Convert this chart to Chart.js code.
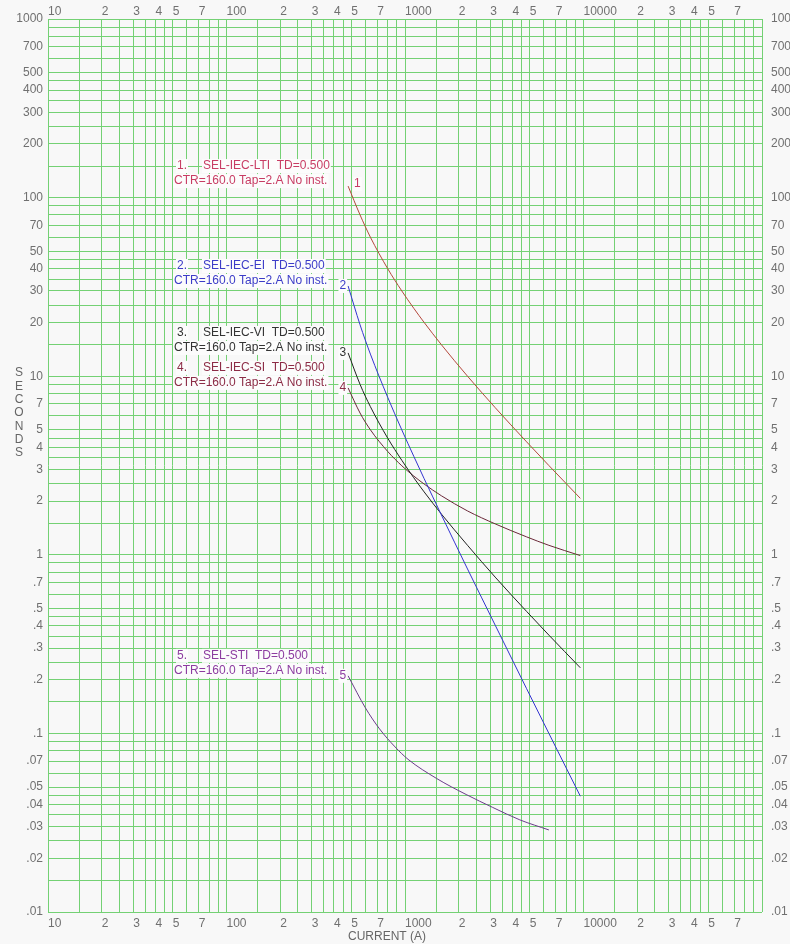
<!DOCTYPE html>
<html>
<head>
<meta charset="utf-8">
<title>Time-current curves</title>
<script src="https://cdn.jsdelivr.net/npm/chart.js@4.4.1/dist/chart.umd.min.js"></script>
<style>
  html, body { margin: 0; padding: 0; background: #f8f8f8; }
  canvas { display: block; }
</style>
</head>
<body>
<canvas id="tccChart" width="790" height="944"></canvas>
<script>
// Relay curves, primary amps vs. trip time in seconds
const currentAmps = [480, 560, 640, 800, 960, 1120, 1280, 1600, 2240, 3200, 4800, 6400, 9600];
const ltiSeconds = [116, 80, 60, 40, 30, 24, 20, 15, 10, 6.67, 4.29, 3.16, 2.07];
const eiSeconds = [32, 19.4, 13.3, 7.62, 5.0, 3.56, 2.67, 1.67, 0.833, 0.404, 0.178, 0.1, 0.0445];
const viSeconds = [13.5, 9.0, 6.75, 4.5, 3.38, 2.7, 2.25, 1.69, 1.13, 0.75, 0.482, 0.355, 0.233];
const siSeconds = [8.6, 6.22, 5.01, 3.79, 3.15, 2.76, 2.49, 2.14, 1.76, 1.49, 1.26, 1.13, 0.99];
const stiAmps = [480, 600, 720, 880, 1040, 1500, 2200, 3100, 4400, 6400];
const stiSeconds = [0.21, 0.139, 0.106, 0.084, 0.0716, 0.056, 0.0455, 0.0385, 0.0328, 0.0288];

const curveNames = ['SEL-IEC-LTI', 'SEL-IEC-EI', 'SEL-IEC-VI', 'SEL-IEC-SI', 'SEL-STI'];
const timeDial = 'TD=0.500';
const settingText = 'CTR=160.0 Tap=2.A No inst.';

// grid lines per decade and which of them get a label
const decadeSteps = [1, 1.5, 2, 2.5, 3, 3.5, 4, 4.5, 5, 6, 7, 8, 9];
const xLabelSteps = [2, 3, 4, 5, 7];
const yLabelSteps = [2, 3, 4, 5, 7];

const textColors = ['#c83c64', '#3c3cc8', '#333333', '#8c2c46', '#8c3ca0'];
const lineColors = ['#b4483c', '#3434d0', '#222222', '#6a2838', '#6c3c8c'];
const font = 'Liberation Sans, Arial, sans-serif';

function gridValues(min, max) {
    const vals = [];
    for (let d = min; d < max; d *= 10) {
        decadeSteps.forEach(s => vals.push(+(s * d).toPrecision(3)));
    }
    vals.push(max);
    return vals;
}

function isDecade(v) {
    const l = Math.log10(v);
    return Math.abs(l - Math.round(l)) < 1e-6;
}

function leadDigit(v) {
    return Math.round(v / Math.pow(10, Math.floor(Math.log10(v) + 1e-9)));
}

function xLabel(v) {
    if (v >= 100000) return '';
    if (isDecade(v)) return String(v);
    const d = leadDigit(v);
    if (Math.abs(v - d * Math.pow(10, Math.floor(Math.log10(v) + 1e-9))) > 1e-9) return '';
    return xLabelSteps.includes(d) ? String(d) : '';
}

function yLabel(v) {
    const e = Math.pow(10, Math.floor(Math.log10(v) + 1e-9));
    const d = Math.round(v / e);
    if (Math.abs(v - d * e) > 1e-9 * e) return '';
    if (d !== 1 && !yLabelSteps.includes(d)) return '';
    if (v >= 1) return String(v);
    return String(+v.toPrecision(2)).replace(/^0/, '');
}

function makeTicks(min, max) {
    return scale => { scale.ticks = gridValues(min, max).map(v => ({ value: v })); };
}

const tickFont = { family: font, size: 12 };
const gridColor = '#74d174';

const series = [ltiSeconds, eiSeconds, viSeconds, siSeconds, stiSeconds].map((vals, i) => {
    const xs = i === 4 ? stiAmps : currentAmps;
    return {
        label: curveNames[i],
        data: xs.map((x, k) => ({ x: x, y: vals[k] })),
        borderColor: lineColors[i],
        borderWidth: 1,
        pointRadius: 0,
        showLine: true,
        cubicInterpolationMode: 'monotone',
        xAxisID: 'x',
        yAxisID: 'y'
    };
});

// background, curve captions and axis titles
const labelsPlugin = {
    id: 'curveLabels',
    beforeDraw(chart) {
        const c = chart.ctx;
        c.save();
        c.fillStyle = '#f8f8f8';
        c.fillRect(0, 0, chart.width, chart.height);
        c.restore();
    },
    afterDraw(chart) {
        const c = chart.ctx;
        const xs = chart.scales.x, ys = chart.scales.y;
        c.save();
        c.font = '12px ' + font;
        c.textBaseline = 'middle';

        function boxedText(txt, x, y, color, align) {
            const w = c.measureText(txt).width;
            const left = align === 'right' ? x - w : x;
            c.fillStyle = '#fcfcfc';
            c.fillRect(left - 1, y - 7, w + 2, 14);
            c.fillStyle = color;
            c.textAlign = 'left';
            c.fillText(txt, left, y);
        }

        series.forEach((ds, i) => {
            const p0 = ds.data[0];
            const px = xs.getPixelForValue(p0.x);
            const py = ys.getPixelForValue(p0.y);
            const col = textColors[i];
            boxedText((i + 1) + '.', 177, py - 20, col);
            boxedText(curveNames[i] + '  ' + timeDial, 203, py - 20, col);
            boxedText(settingText, 174, py - 5, col);
            if (i === 0) {
                boxedText('1', px + 6, py - 2, col);
            } else {
                boxedText(String(i + 1), px - 2, py, col, 'right');
            }
        });

        c.fillStyle = '#666666';
        c.textAlign = 'center';
        c.fillText('CURRENT (A)', 387, 937);
        'SECONDS'.split('').forEach((ch, k) => {
            c.fillText(ch, 19, 373 + k * 13.3);
        });
        c.restore();
    }
};

const ctx = document.getElementById('tccChart').getContext('2d');
const chart = new Chart(ctx, {
    type: 'scatter',
    data: { datasets: series },
    options: {
        responsive: false,
        animation: false,
        layout: { padding: 0 },
        plugins: {
            legend: { display: false },
            tooltip: { enabled: false }
        },
        scales: {
            x: {
                type: 'logarithmic',
                position: 'bottom',
                min: 10,
                max: 100000,
                afterBuildTicks: makeTicks(10, 100000),
                afterFit: s => { s.height = 32; },
                grid: { color: gridColor, lineWidth: 1, drawTicks: false },
                border: { display: false },
                ticks: {
                    autoSkip: false, maxRotation: 0, align: 'start', padding: 4,
                    color: '#707070', font: tickFont, callback: v => xLabel(v)
                }
            },
            xTop: {
                type: 'logarithmic',
                position: 'top',
                min: 10,
                max: 100000,
                afterBuildTicks: makeTicks(10, 100000),
                afterFit: s => { s.height = 19; },
                grid: { display: false, drawTicks: false },
                border: { display: false },
                ticks: {
                    autoSkip: false, maxRotation: 0, align: 'start', padding: 0,
                    color: '#707070', font: tickFont, callback: v => xLabel(v)
                }
            },
            y: {
                type: 'logarithmic',
                position: 'left',
                min: 0.01,
                max: 1000,
                afterBuildTicks: makeTicks(0.01, 1000),
                afterFit: s => { s.width = 48; },
                grid: { color: gridColor, lineWidth: 1, drawTicks: false },
                border: { display: false },
                ticks: {
                    autoSkip: false, padding: 5,
                    color: '#707070', font: tickFont, callback: v => yLabel(v)
                }
            },
            yRight: {
                type: 'logarithmic',
                position: 'right',
                min: 0.01,
                max: 1000,
                afterBuildTicks: makeTicks(0.01, 1000),
                afterFit: s => { s.width = 28; },
                grid: { display: false, drawTicks: false },
                border: { display: false },
                ticks: {
                    autoSkip: false, padding: 9,
                    color: '#707070', font: tickFont, callback: v => yLabel(v)
                }
            }
        }
    },
    plugins: [labelsPlugin]
});
</script>
</body>
</html>
